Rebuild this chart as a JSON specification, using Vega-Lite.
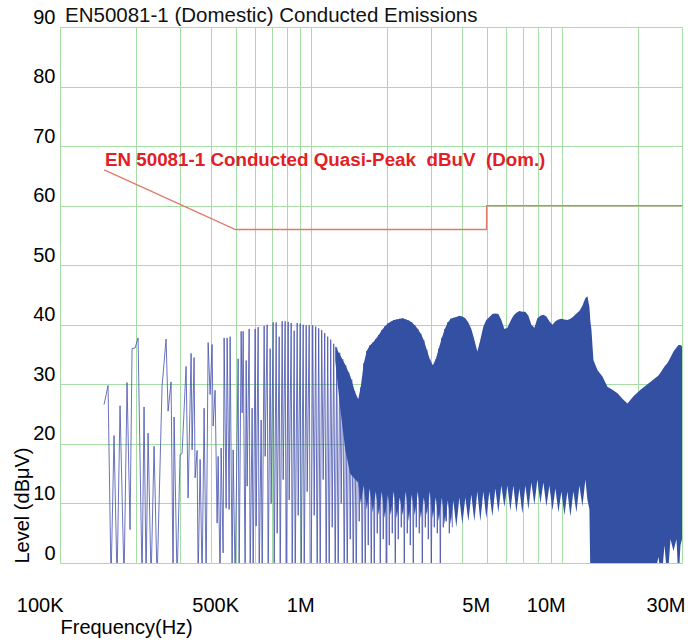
{
"$schema": "https://vega.github.io/schema/vega-lite/v6.json",
"width": 622,
"height": 536,
"autosize": "none",
"padding": {"left": 60, "top": 27, "right": 6, "bottom": 80},
"background": "white",
"config": {"view": {"stroke": null}, "font": "Liberation Sans"},
"datasets": {
"trace": [
{"f":149750,"v":26.6},{"f":155350,"v":29.8},{"f":159680,"v":-3},{"f":164130,"v":21.4},{"f":168720,"v":-3},{"f":173430,"v":26.4},{"f":179910,"v":-3},{"f":184930,"v":30.3},{"f":190100,"v":5.6},{"f":193620,"v":36},{"f":199020,"v":36.1},{"f":204580,"v":37.8},{"f":212230,"v":-3},{"f":216160,"v":26.2},{"f":220160,"v":-3},{"f":224240,"v":21.8},{"f":230500,"v":-3},{"f":236930,"v":19.6},{"f":243550,"v":-3},{"f":254980,"v":29.7},{"f":264520,"v":37.6},{"f":269420,"v":25.5},{"f":276930,"v":30.4},{"f":282060,"v":-3},{"f":284660,"v":24.5},{"f":292610,"v":-3},{"f":300780,"v":18.2},{"f":306350,"v":18.4},{"f":317800,"v":33},{"f":323690,"v":10.9},{"f":332740,"v":35.2},{"f":335810,"v":19},{"f":342000,"v":34.5},{"f":345200,"v":14.3},{"f":351600,"v":18.9},{"f":354800,"v":-3},{"f":361400,"v":17.4},{"f":368100,"v":-3},{"f":374900,"v":26},{"f":381900,"v":-3},{"f":389000,"v":37},{"f":396100,"v":28.3},{"f":403400,"v":36.7},{"f":407200,"v":23},{"f":414700,"v":29},{"f":422400,"v":6.7},{"f":426300,"v":17.9},{"f":434200,"v":-3},{"f":438200,"v":19.3},{"f":446300,"v":1.7},{"f":450400,"v":37.8},{"f":458800,"v":9.2},{"f":463000,"v":37.8},{"f":471600,"v":9},{"f":475900,"v":38},{"f":484700,"v":-3},{"f":489200,"v":19},{"f":498300,"v":-3},{"f":512200,"v":34.3},{"f":516900,"v":-3},{"f":526500,"v":38.9},{"f":531400,"v":25.2},{"f":536300,"v":38.9},
{"f":546200,"v":-3},{"f":551200,"v":34},{"f":556300,"v":12.9},{"f":566600,"v":39.3},{"f":571800,"v":-3},{"f":582400,"v":26},{"f":587800,"v":-3},{"f":598700,"v":39.3},{"f":604200,"v":6.2},{"f":615400,"v":39.6},{"f":621100,"v":-3},{"f":632600,"v":24},{"f":638400,"v":-3},{"f":650200,"v":39.8},{"f":656200,"v":17.9},{"f":668400,"v":40},{"f":674500,"v":-3},{"f":687000,"v":36},{"f":693300,"v":10},{"f":706200,"v":40.4},{"f":712700,"v":-3},{"f":725900,"v":40.4},{"f":732600,"v":5},{"f":746200,"v":38},{"f":753100,"v":-3},{"f":767100,"v":40.6},{"f":774100,"v":14},{"f":788400,"v":40.6},{"f":795700,"v":-3},{"f":810400,"v":40.5},{"f":817900,"v":10.6},{"f":833000,"v":40.3},{"f":840700,"v":-3},{"f":856300,"v":39},{"f":864200,"v":-3},{"f":880200,"v":40.3},{"f":888300,"v":8},{"f":904800,"v":40.2},{"f":913100,"v":-3},{"f":930000,"v":40},{"f":938600,"v":-3},{"f":956000,"v":39.9},{"f":964800,"v":12},{"f":982700,"v":39.9},{"f":991800,"v":-3},
{"f":1000900,"v":-3},{"f":1014800,"v":39.9},{"f":1028900,"v":8},{"f":1043100,"v":39.7},{"f":1057500,"v":-3},{"f":1072200,"v":39.4},{"f":1087100,"v":-3},{"f":1102200,"v":39.1},{"f":1117400,"v":14},{"f":1132900,"v":38.6},{"f":1148600,"v":-3},{"f":1164500,"v":38},{"f":1180600,"v":-3},{"f":1197100,"v":37.5},{"f":1213700,"v":6},{"f":1230500,"v":36.8},{"f":1247500,"v":-3},{"f":1264800,"v":36.2},{"f":1282300,"v":-3},{"f":1300100,"v":35.3},{"f":1318100,"v":10},{"f":1336400,"v":34.2},{"f":1354900,"v":-3},{"f":1373800,"v":33.2},{"f":1392800,"v":-3},{"f":1412100,"v":32},{"f":1431700,"v":4},{"f":1451600,"v":30.8},{"f":1471700,"v":-3},{"f":1492000,"v":28.8},{"f":1512700,"v":-3},{"f":1533700,"v":27.6},{"f":1554900,"v":7},{"f":1576500,"v":29.5},{"f":1598400,"v":-3},{"f":1620500,"v":33.5},{"f":1643000,"v":-3},{"f":1665800,"v":35.6},{"f":1688900,"v":3},{"f":1712300,"v":36.5},{"f":1736100,"v":-3},{"f":1760100,"v":37},{"f":1784500,"v":-3},{"f":1809300,"v":37.6},{"f":1834400,"v":5},{"f":1859800,"v":38.3},{"f":1885600,"v":-3},{"f":1911800,"v":39.1},{"f":1938200,"v":4},{"f":1965100,"v":39.7},{"f":1992300,"v":-3},{"f":2019900,"v":40.2},{"f":2047900,"v":3},{"f":2076300,"v":40.5},{"f":2105100,"v":5},{"f":2134200,"v":40.8},{"f":2163900,"v":-3},{"f":2193900,"v":40.9},{"f":2224300,"v":4},{"f":2255100,"v":41},{"f":2286400,"v":6},{"f":2318100,"v":41.1},{"f":2350200,"v":-3},{"f":2382800,"v":40.9},{"f":2415800,"v":5},{"f":2449300,"v":40.7},{"f":2483300,"v":3},{"f":2517700,"v":40.4},{"f":2552600,"v":-3},{"f":2588000,"v":39.9},{"f":2623900,"v":6},{"f":2660200,"v":39.3},{"f":2697100,"v":5},{"f":2734500,"v":38.5},{"f":2772400,"v":-3},{"f":2810800,"v":37.4},{"f":2849800,"v":6},{"f":2889300,"v":35.8},{"f":2929300,"v":4},{"f":2969900,"v":34.2},{"f":3011100,"v":-3},{"f":3052800,"v":33.2},{"f":3095100,"v":6},{"f":3138100,"v":34.2},{"f":3181600,"v":5},{"f":3225600,"v":36},{"f":3270400,"v":-3},{"f":3315800,"v":37.8},{"f":3361700,"v":6},{"f":3408300,"v":39.3},{"f":3455600,"v":7},{"f":3503400,"v":40.4},{"f":3552000,"v":5},{"f":3601300,"v":41},{"f":3651200,"v":6}
],
"band": [
{"f":1247500,"v":36.4,"lo":34},{"f":1306100,"v":34.9,"lo":26},{"f":1367500,"v":33.3,"lo":19},{"f":1431700,"v":31.4,"lo":15},{"f":1498900,"v":28.6,"lo":14},{"f":1540700,"v":27.5,"lo":13.5},
{"f":1576500,"v":29.5,"lo":10},{"f":1620500,"v":33.5,"lo":13},{"f":1665800,"v":35.6,"lo":9},{"f":1712300,"v":36.5,"lo":12.5},{"f":1760100,"v":37,"lo":8.5},{"f":1809300,"v":37.6,"lo":12},{"f":1859800,"v":38.3,"lo":8},{"f":1911800,"v":39.1,"lo":12},{"f":1965100,"v":39.7,"lo":7.5},{"f":2019900,"v":40.2,"lo":11.5},{"f":2076300,"v":40.5,"lo":8},{"f":2134200,"v":40.8,"lo":12},{"f":2193900,"v":40.9,"lo":7.5},{"f":2255100,"v":41,"lo":11},{"f":2318100,"v":41.1,"lo":8},{"f":2382800,"v":40.9,"lo":12},{"f":2449300,"v":40.7,"lo":7},{"f":2517700,"v":40.4,"lo":11.5},{"f":2588000,"v":39.9,"lo":8},{"f":2660200,"v":39.3,"lo":12},{"f":2734500,"v":38.5,"lo":7.5},{"f":2810800,"v":37.4,"lo":11},{"f":2889300,"v":35.8,"lo":8},{"f":2969900,"v":34.2,"lo":12},{"f":3052800,"v":33.2,"lo":7.5},{"f":3138100,"v":34.2,"lo":11},{"f":3225600,"v":36,"lo":7},{"f":3315800,"v":37.8,"lo":11},{"f":3408300,"v":39.3,"lo":6.5},{"f":3503400,"v":40.4,"lo":10.5},{"f":3601300,"v":41,"lo":6.5},
{"f":3684900,"v":41.2,"lo":10.5},{"f":3787700,"v":41.3,"lo":6},{"f":3893400,"v":41.5,"lo":11},{"f":4002100,"v":41.4,"lo":6.5},{"f":4113800,"v":41.1,"lo":11},{"f":4228600,"v":40.4,"lo":7},{"f":4346700,"v":39.3,"lo":11.5},{"f":4468000,"v":37.5,"lo":7},{"f":4592800,"v":35.5,"lo":12},{"f":4721000,"v":37.5,"lo":7},{"f":4852800,"v":39.7,"lo":12},{"f":4988300,"v":40.8,"lo":7.5},{"f":5127500,"v":41.3,"lo":12},{"f":5270600,"v":41.8,"lo":7.8},{"f":5417800,"v":41.9,"lo":12.5},{"f":5569000,"v":41.8,"lo":8.5},{"f":5724500,"v":40.8,"lo":13},{"f":5884200,"v":39.3,"lo":9.4},{"f":6048600,"v":39.5,"lo":13},{"f":6217400,"v":40.6,"lo":8.8},{"f":6390900,"v":41.5,"lo":13},{"f":6569400,"v":42,"lo":8.5},{"f":6752700,"v":42.3,"lo":12.5},{"f":6941300,"v":42.2,"lo":8.3},{"f":7135100,"v":42.2,"lo":13},{"f":7334200,"v":41.5,"lo":9},{"f":7539000,"v":40,"lo":13.5},{"f":7749300,"v":39.5,"lo":9.8},{"f":7965700,"v":41.1,"lo":14},{"f":8188200,"v":41.5,"lo":10},{"f":8416700,"v":41.7,"lo":13.5},{"f":8651700,"v":41.4,"lo":9.5},{"f":8893100,"v":40.6,"lo":13},{"f":9141400,"v":40,"lo":8.8},{"f":9396700,"v":40.6,"lo":12.5},{"f":9659000,"v":40.9,"lo":8.5},{"f":9928700,"v":41,"lo":12},{"f":10205700,"v":40.9,"lo":8},{"f":10488700,"v":40.8,"lo":12},{"f":10782000,"v":41,"lo":7.8},{"f":11083000,"v":41.4,"lo":12},{"f":11392000,"v":41.9,"lo":8.5},{"f":11710000,"v":42.3,"lo":13},{"f":12037000,"v":43.2,"lo":9.5},{"f":12373000,"v":44.5,"lo":14},{"f":12602000,"v":44.8,"lo":10.6},{"f":12836000,"v":43,"lo":9},
{"f":12954000,"v":40.5,"lo":-3},{"f":13073000,"v":39.2,"lo":-3},{"f":13316000,"v":34.1,"lo":-3},{"f":13814000,"v":32.4,"lo":-3},{"f":14463000,"v":31.3,"lo":-3},{"f":15141000,"v":29.6,"lo":-3},{"f":15852000,"v":29.1,"lo":-3},{"f":16597000,"v":28.5,"lo":-3},{"f":17536000,"v":27.4,"lo":-3},{"f":18193000,"v":26.8,"lo":-3},{"f":19222000,"v":28,"lo":-3},{"f":20500000,"v":29.1,"lo":-3},{"f":21857000,"v":30,"lo":-3},{"f":23094000,"v":30.8,"lo":-3},{"f":24179000,"v":31.5,"lo":1},{"f":24854000,"v":32.2,"lo":-3},{"f":25548000,"v":33,"lo":3},{"f":26261000,"v":33.6,"lo":-3},{"f":26993000,"v":34.5,"lo":4},{"f":27746000,"v":35.5,"lo":2},{"f":28522000,"v":36.2,"lo":4},{"f":29050000,"v":36.6,"lo":-3},{"f":29587000,"v":36.6,"lo":3},{"f":30000000,"v":36.4,"lo":4}
],
"limit": [
{"f":150000,"v":66,"i":1},{"f":500000,"v":56,"i":2},{"f":5000000,"v":56,"i":3},{"f":5000000,"v":60,"i":4},{"f":30000000,"v":60,"i":5}
],
"note": [
{"f":151000,"v":66.7,"t":"EN 50081-1 Conducted Quasi-Peak\u00a0 dBuV\u00a0 (Dom.)"}
],
"head": [
{"f":104700,"v":90.8,"t":"EN50081-1 (Domestic) Conducted Emissions"}
]
},
"encoding": {
"x": {"field": "f", "type": "quantitative",
 "scale": {"type": "log", "domain": [100000, 30000000], "nice": false},
 "axis": {
  "values": [100000,200000,300000,400000,500000,600000,700000,800000,900000,1000000,2000000,3000000,4000000,5000000,6000000,7000000,8000000,9000000,10000000,20000000,30000000],
  "labelExpr": "datum.value == 100000 ? '100K' : datum.value == 500000 ? '500K' : datum.value == 1000000 ? '1M' : datum.value == 5000000 ? '5M' : datum.value == 10000000 ? '10M' : datum.value == 30000000 ? '30M' : ''",
  "grid": true, "gridColor": "#a6dca6", "gridWidth": 1, "gridOpacity": 1,
  "domain": false, "ticks": false, "tickSize": 0,
  "labelAlign": "right", "labelBaseline": "top", "labelPadding": 32, "labelOffset": 3,
  "labelFontSize": 20, "labelFont": "Liberation Sans", "labelColor": "#000000",
  "labelFlush": false, "labelOverlap": false, "labelBound": false,
  "title": "Frequency(Hz)", "titleFontSize": 20, "titleFontWeight": "normal", "titleFont": "Liberation Sans", "titleColor": "#000000",
  "titleAnchor": "start", "titleAlign": "left", "titleBaseline": "alphabetic", "titleX": 0, "titleY": 70
 }
},
"y": {"field": "v", "type": "quantitative",
 "scale": {"domain": [0, 90], "nice": false, "zero": false},
 "axis": {
  "values": [0,10,20,30,40,50,60,70,80,90],
  "grid": true, "gridColor": "#a6dca6", "gridWidth": 1, "gridOpacity": 1,
  "domain": false, "ticks": false, "tickSize": 0,
  "labelAlign": "right", "labelBaseline": "bottom", "labelPadding": 5,
  "labelFontSize": 20, "labelFont": "Liberation Sans", "labelColor": "#000000", "labelOverlap": false, "labelFlush": false,
  "title": "Level (dBμV)", "titleFontSize": 20, "titleFontWeight": "normal", "titleFont": "Liberation Sans", "titleColor": "#000000",
  "titleAngle": -90, "titleAlign": "left", "titleBaseline": "middle", "titleX": -38, "titleY": 536
 }
}
},
"layer": [
{
 "data": {"name": "trace"},
 "mark": {"type": "line", "color": "#4450ac", "strokeWidth": 1, "opacity": 0.8, "clip": true}
},
{
 "data": {"name": "band"},
 "mark": {"type": "area", "color": "#3350a3", "opacity": 1, "clip": true},
 "encoding": {
  "y2": {"field": "lo"}
 }
},
{
 "data": {"name": "limit"},
 "mark": {"type": "line", "color": "#e07a66", "strokeWidth": 1.3},
 "encoding": {
  "order": {"field": "i", "type": "quantitative"}
 }
},
{
 "data": {"name": "note"},
 "mark": {"type": "text", "align": "left", "baseline": "alphabetic", "font": "Liberation Sans", "fontSize": 18.8, "fontWeight": "bold", "color": "#e31e26"},
 "encoding": {
  "text": {"field": "t"}
 }
},
{
 "data": {"name": "head"},
 "mark": {"type": "text", "align": "left", "baseline": "alphabetic", "font": "Liberation Sans", "fontSize": 20.5, "fontWeight": "normal", "color": "#111111"},
 "encoding": {
  "text": {"field": "t"}
 }
}
]
}
